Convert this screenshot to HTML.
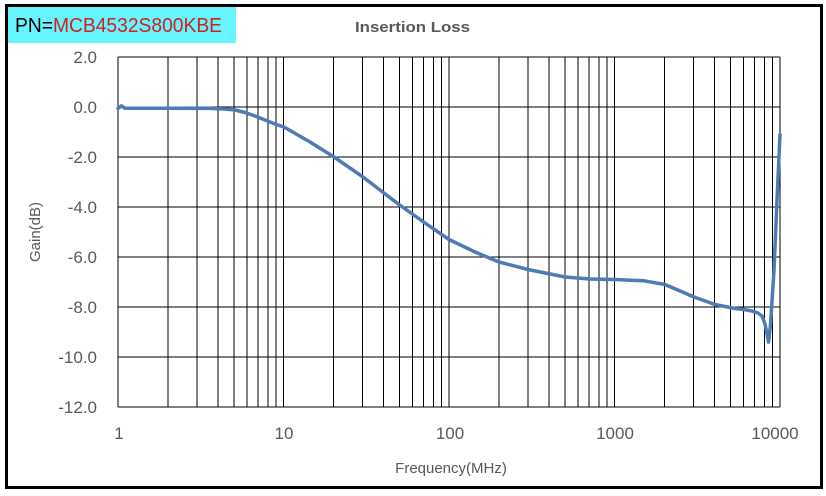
<!DOCTYPE html>
<html><head><meta charset="utf-8"><style>
body{margin:0;background:#fff;}
svg{display:block;font-family:"Liberation Sans",Arial,sans-serif;}
</style></head><body>
<svg width="826" height="496" viewBox="0 0 826 496" xmlns="http://www.w3.org/2000/svg">
<rect x="0" y="0" width="826" height="496" fill="#fff"/>
<rect x="6.5" y="5.5" width="815" height="482" fill="none" stroke="#000" stroke-width="3"/>
<rect x="8" y="7" width="228" height="36" fill="#66f5ff"/>
<text x="15" y="32" font-size="20" fill="#000" textLength="207" lengthAdjust="spacingAndGlyphs">PN=<tspan fill="#d02020">MCB4532S800KBE</tspan></text>
<text x="355" y="32" font-size="15" font-weight="bold" fill="#595959" textLength="115" lengthAdjust="spacingAndGlyphs">Insertion Loss</text>
<g stroke="#000" stroke-width="1" shape-rendering="crispEdges">
<line x1="118" y1="57" x2="780" y2="57"/><line x1="118" y1="107" x2="780" y2="107"/><line x1="118" y1="157" x2="780" y2="157"/><line x1="118" y1="207" x2="780" y2="207"/><line x1="118" y1="257" x2="780" y2="257"/><line x1="118" y1="307" x2="780" y2="307"/><line x1="118" y1="357" x2="780" y2="357"/><line x1="118" y1="407" x2="780" y2="407"/>
<g id="dec">
<line x1="118" y1="57" x2="118" y2="407"/><line x1="168" y1="57" x2="168" y2="407"/><line x1="197" y1="57" x2="197" y2="407"/><line x1="218" y1="57" x2="218" y2="407"/><line x1="234" y1="57" x2="234" y2="407"/><line x1="247" y1="57" x2="247" y2="407"/><line x1="258" y1="57" x2="258" y2="407"/><line x1="268" y1="57" x2="268" y2="407"/><line x1="276" y1="57" x2="276" y2="407"/>
</g>
<use href="#dec" transform="translate(165.5,0)"/>
<use href="#dec" transform="translate(331,0)"/>
<use href="#dec" transform="translate(496.5,0)"/>
<line x1="780" y1="57" x2="780" y2="407"/>
</g>
<polyline fill="none" stroke="#4f7bb5" stroke-width="3.5" stroke-linejoin="round" stroke-linecap="round"
points="118,108.5 121.5,105.8 125,108.3 168,108.3 210,108.4 225,109 235,110 245,112.5 255,116 265,120 275,124 284,127 310,142 334,157 363,177 380,190 399,204.5 425,223 449,239.5 475,252 499,262 528,269.5 565,277 590,279 615,279.5 644,280.8 665,284.5 694,297 715,304.5 735,308.5 744,309.5 752,311 758,313 762,316 765,324 767,334 768.5,342 770.5,325 774,270 777,200 780,134.5"/>
<g font-size="17" fill="#595959" text-anchor="end">
<text x="97" y="63">2.0</text><text x="97" y="113">0.0</text><text x="97" y="163">-2.0</text><text x="97" y="213">-4.0</text><text x="97" y="263">-6.0</text><text x="97" y="313">-8.0</text><text x="97" y="363">-10.0</text><text x="97" y="413">-12.0</text>
</g>
<g font-size="17" fill="#595959" text-anchor="middle">
<text x="119" y="439">1</text><text x="284" y="439">10</text><text x="450" y="439">100</text><text x="615" y="439">1000</text><text x="775" y="439">10000</text>
</g>
<text x="451" y="473" font-size="15" fill="#595959" text-anchor="middle">Frequency(MHz)</text>
<text transform="translate(40,232) rotate(-90)" font-size="15" fill="#595959" text-anchor="middle">Gain(dB)</text>
</svg>
</body></html>
